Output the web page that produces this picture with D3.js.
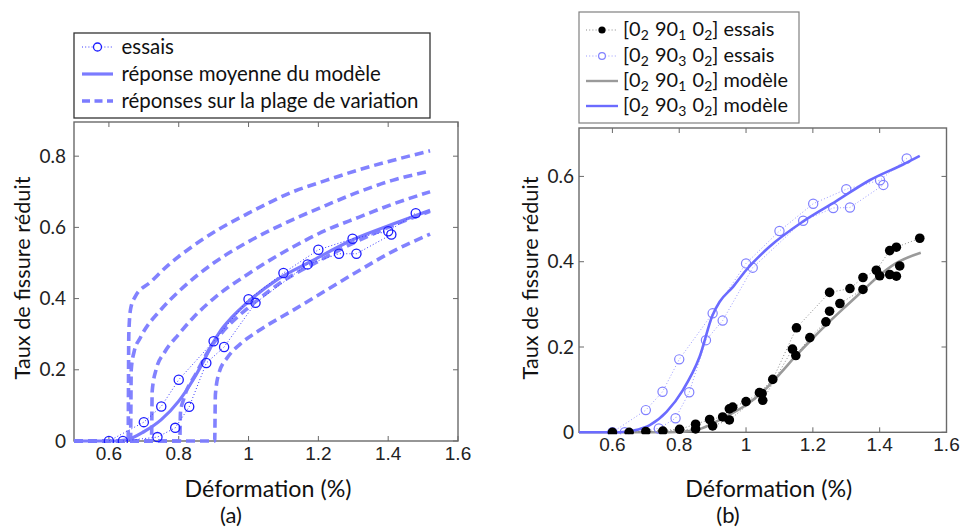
<!DOCTYPE html>
<html><head><meta charset="utf-8">
<script src="https://cdn.jsdelivr.net/npm/d3@7"></script>
<style>body{margin:0;background:#fff}</style>
</head><body>
<svg id="c" width="962" height="530"></svg>
<script>
// ---------- data ----------
const xTicks = [0.6, 0.8, 1, 1.2, 1.4, 1.6];
const yTicksA = [0, 0.2, 0.4, 0.6, 0.8];
const yTicksB = [0, 0.2, 0.4, 0.6];

// (a) essais – two specimens
const essaisA1 = [[0.6,0],[0.70,0.053],[0.75,0.097],[0.80,0.172],[0.90,0.28],[1.0,0.398],[1.10,0.472],[1.20,0.537],[1.298,0.568],[1.40,0.589],[1.479,0.64]];
const essaisA2 = [[0.64,0],[0.739,0.011],[0.79,0.037],[0.83,0.096],[0.879,0.219],[0.93,0.264],[1.02,0.388],[1.169,0.496],[1.259,0.526],[1.309,0.526],[1.409,0.58]];
// (a) mean model response
const meanA = [[0.5,0],[0.62,0],[0.65,0.003],[0.70,0.026],[0.75,0.06],[0.80,0.112],[0.84,0.17],[0.87,0.222],[0.895,0.27],[0.92,0.31],[0.95,0.345],[1.0,0.392],[1.08,0.452],[1.18,0.505],[1.30,0.566],[1.41,0.608],[1.52,0.648]];
// (a) responses over the variation range
const dash1 = [[0.5,0],[0.655,0],[0.657,0.30],[0.662,0.37],[0.675,0.405],[0.72,0.447],[0.77,0.494],[0.83,0.54],[0.91,0.592],[1.0,0.64],[1.127,0.70],[1.222,0.732],[1.317,0.762],[1.412,0.788],[1.52,0.815]];
const dash2 = [[0.5,0],[0.662,0],[0.664,0.20],[0.672,0.25],[0.69,0.29],[0.75,0.37],[0.80,0.42],[0.90,0.50],[1.0,0.56],[1.127,0.622],[1.222,0.662],[1.317,0.70],[1.412,0.732],[1.52,0.758]];
const dash3 = [[0.5,0],[0.722,0],[0.724,0.14],[0.735,0.20],[0.76,0.25],[0.80,0.30],[0.84,0.345],[0.90,0.40],[1.0,0.47],[1.127,0.545],[1.222,0.592],[1.317,0.629],[1.412,0.665],[1.52,0.70]];
const dash4 = [[0.5,0],[0.803,0],[0.805,0.08],[0.815,0.12],[0.85,0.19],[0.88,0.245],[0.92,0.30],[0.97,0.35],[1.0,0.375],[1.10,0.45],[1.20,0.505],[1.30,0.556],[1.40,0.60],[1.52,0.645]];
const dash5 = [[0.5,0],[0.903,0],[0.905,0.13],[0.915,0.19],[0.94,0.235],[0.976,0.272],[1.031,0.311],[1.127,0.367],[1.222,0.423],[1.317,0.479],[1.412,0.532],[1.52,0.581]];

// (b) [0 90_1 0] essais – two specimens
const black1 = [[0.6,0],[0.70,0.002],[0.801,0.007],[0.849,0.019],[0.891,0.030],[0.93,0.036],[0.95,0.055],[0.96,0.059],[1.0,0.072],[1.04,0.093],[1.08,0.124],[1.151,0.245],[1.25,0.328],[1.311,0.337],[1.35,0.363],[1.39,0.38],[1.43,0.426],[1.45,0.434],[1.52,0.455]];
const black2 = [[0.65,0],[0.751,0.003],[0.849,0.008],[0.90,0.015],[0.95,0.029],[1.048,0.091],[1.05,0.075],[1.139,0.195],[1.149,0.18],[1.191,0.222],[1.239,0.259],[1.25,0.284],[1.281,0.302],[1.35,0.335],[1.40,0.367],[1.43,0.37],[1.45,0.366],[1.46,0.39]];
// (b) [0 90_3 0] essais – two specimens
const blueB1 = [[0.6,0],[0.70,0.052],[0.75,0.095],[0.80,0.171],[0.90,0.279],[1.0,0.396],[1.10,0.472],[1.201,0.536],[1.30,0.57],[1.401,0.591],[1.481,0.642]];
const blueB2 = [[0.637,0],[0.739,0.009],[0.789,0.033],[0.83,0.094],[0.88,0.216],[0.93,0.262],[1.02,0.386],[1.171,0.496],[1.261,0.526],[1.311,0.527],[1.411,0.58]];
// (b) models
const greyModel = [[0.5,0],[0.77,0],[0.85,0.005],[0.90,0.021],[0.95,0.041],[1.0,0.064],[1.05,0.095],[1.10,0.136],[1.149,0.179],[1.199,0.22],[1.249,0.259],[1.298,0.295],[1.348,0.331],[1.398,0.367],[1.448,0.396],[1.523,0.421]];
const blueModel = [[0.5,0],[0.62,0],[0.662,0.004],[0.712,0.017],[0.762,0.048],[0.811,0.099],[0.861,0.177],[0.90,0.275],[0.921,0.306],[0.961,0.341],[1.0,0.38],[1.07,0.435],[1.17,0.494],[1.27,0.542],[1.37,0.591],[1.47,0.628],[1.52,0.648]];

const legendA = ["essais", "réponse moyenne du modèle", "réponses sur la plage de variation"];
const legendB = [["2","1","essais"],["2","3","essais"],["2","1","modèle"],["2","3","modèle"]];

// ---------- drawing ----------
const svg = d3.select("#c");
const FRAME = "#6a6a6a";
const SANS = "Lato, 'Open Sans', sans-serif";
const NARROW = "'Liberation Sans Narrow', 'Liberation Sans', sans-serif";
const LEG = "Lato, 'Noto Sans', sans-serif";

function panel(cfg) {
  const x = d3.scaleLinear().domain([0.5, 1.6]).range([cfg.x0, cfg.x1]);
  const y = d3.scaleLinear().domain([0, cfg.yMax]).range([cfg.y0, cfg.y1]);
  const g = svg.append("g");
  const clipId = "clip" + cfg.id;
  svg.append("clipPath").attr("id", clipId).append("rect")
    .attr("x", cfg.x0).attr("y", cfg.y1).attr("width", cfg.x1 - cfg.x0).attr("height", cfg.y0 - cfg.y1 + 2);
  const tl = 5;
  cfg.yTicks.forEach(v => {
    g.append("line").attr("x1", cfg.x0).attr("x2", cfg.x0 + tl).attr("y1", y(v)).attr("y2", y(v)).attr("stroke", FRAME);
    g.append("line").attr("x1", cfg.x1).attr("x2", cfg.x1 - tl).attr("y1", y(v)).attr("y2", y(v)).attr("stroke", FRAME);
    g.append("text").attr("x", cfg.x0 - cfg.ylabGap).attr("y", y(v)).attr("dy", "0.35em")
      .attr("text-anchor", "end").attr("font-family", SANS).attr("font-size", 19).attr("fill", "#222")
      .text(d3.format("~g")(v));
  });
  xTicks.forEach(v => {
    g.append("line").attr("x1", x(v)).attr("x2", x(v)).attr("y1", cfg.y0).attr("y2", cfg.y0 - tl).attr("stroke", FRAME);
    g.append("line").attr("x1", x(v)).attr("x2", x(v)).attr("y1", cfg.y1).attr("y2", cfg.y1 + tl).attr("stroke", FRAME);
    g.append("text").attr("x", x(v)).attr("y", cfg.y0 + 19)
      .attr("text-anchor", "middle").attr("font-family", NARROW).attr("font-size", 19).attr("fill", "#222")
      .text(d3.format("~g")(v));
  });
  const plot = svg.append("g").attr("clip-path", `url(#${clipId})`);
  g.append("rect").attr("x", cfg.x0).attr("y", cfg.y1).attr("width", cfg.x1 - cfg.x0).attr("height", cfg.y0 - cfg.y1)
    .attr("fill", "none").attr("stroke", FRAME).attr("stroke-width", 1.4);
  const xt = svg.append("text").attr("x", (cfg.x0 + cfg.x1) / 2 + cfg.xtShift).attr("y", 497)
    .attr("text-anchor", "middle").attr("font-family", SANS).attr("font-size", 21).attr("fill", "#111")
    .text("Déformation (%)");
  fit(xt, 167);
  const yt = svg.append("text").attr("transform", `translate(${cfg.ytX},278) rotate(-90)`)
    .attr("text-anchor", "middle").attr("dy", "0.36em").attr("font-family", SANS).attr("font-size", 21).attr("fill", "#111")
    .text("Taux de fissure réduit");
  fit(yt, 203);
  svg.append("text").attr("x", cfg.capX).attr("y", 523).attr("text-anchor", "middle")
    .attr("font-family", SANS).attr("font-size", 22).attr("fill", "#111").text(cfg.cap);
  return {x, y, plot};
}

function fit(sel, w) {
  const fs = +sel.attr("font-size");
  const cur = sel.node().getComputedTextLength();
  sel.attr("font-size", (fs * w / cur).toFixed(2));
}

function line(p, curve) {
  return d3.line().x(d => p.x(d[0])).y(d => p.y(d[1])).curve(curve || d3.curveLinear);
}

// ----- panel (a) -----
const A = panel({id: "a", x0: 74, x1: 458, y0: 441, y1: 122, yMax: 0.896, yTicks: yTicksA, ylabGap: 8,
  ytX: 22, cap: "(a)", capX: 231, xtShift: 2});
const BLUE_L = "#7b7bff";
[dash1, dash2, dash3, dash4, dash5].forEach(d => {
  A.plot.append("path").attr("d", line(A, d3.curveMonotoneX)(d)).attr("fill", "none")
    .attr("stroke", BLUE_L).attr("stroke-width", 3.6).attr("stroke-dasharray", "9,5").attr("opacity", 0.95);
});
A.plot.append("path").attr("d", line(A, d3.curveMonotoneX)(meanA)).attr("fill", "none")
  .attr("stroke", BLUE_L).attr("stroke-width", 3.2);
[essaisA1, essaisA2].forEach(d => {
  A.plot.append("path").attr("d", line(A)(d)).attr("fill", "none")
    .attr("stroke", "#3a3aff").attr("stroke-width", 1).attr("stroke-dasharray", "1,2.2");
  A.plot.selectAll(null).data(d).enter().append("circle")
    .attr("cx", p => A.x(p[0])).attr("cy", p => A.y(p[1])).attr("r", 4.6)
    .attr("fill", "none").attr("stroke", "#1c1cff").attr("stroke-width", 1.3);
});

// legend (a)
const lgA = svg.append("g");
lgA.append("rect").attr("x", 74).attr("y", 33).attr("width", 356).attr("height", 85)
  .attr("fill", "#fff").attr("stroke", "#333").attr("stroke-width", 1.3);
const rowsA = [47, 74, 101];
lgA.append("line").attr("x1", 82).attr("x2", 113).attr("y1", rowsA[0]).attr("y2", rowsA[0])
  .attr("stroke", "#3a3aff").attr("stroke-width", 1).attr("stroke-dasharray", "1,2.2");
lgA.append("circle").attr("cx", 97.5).attr("cy", rowsA[0]).attr("r", 4).attr("fill", "#fff").attr("stroke", "#1c1cff").attr("stroke-width", 1.3);
lgA.append("line").attr("x1", 82).attr("x2", 113).attr("y1", rowsA[1]).attr("y2", rowsA[1])
  .attr("stroke", BLUE_L).attr("stroke-width", 3.2);
lgA.append("line").attr("x1", 82).attr("x2", 113).attr("y1", rowsA[2]).attr("y2", rowsA[2])
  .attr("stroke", BLUE_L).attr("stroke-width", 3.6).attr("stroke-dasharray", "8,4.5");
const txA = legendA.map((t, i) => lgA.append("text").attr("x", 121.5).attr("y", rowsA[i]).attr("dy", "0.33em")
  .attr("font-family", LEG).attr("font-size", 18).attr("fill", "#111").text(t));
{
  const w = txA[2].node().getComputedTextLength();
  const fs = (18 * 297 / w).toFixed(2);
  txA.forEach(t => t.attr("font-size", fs));
}

// ----- panel (b) -----
const B = panel({id: "b", x0: 579, x1: 946.5, y0: 432.3, y1: 128, yMax: 0.7135, yTicks: yTicksB, ylabGap: 5,
  ytX: 530, cap: "(b)", capX: 728, xtShift: 6});
const BLUE_B = "#6b6bff";
B.plot.append("path").attr("d", line(B, d3.curveMonotoneX)(greyModel)).attr("fill", "none")
  .attr("stroke", "#9a9a9a").attr("stroke-width", 2.6);
[black1, black2].forEach(d => {
  B.plot.append("path").attr("d", line(B)(d)).attr("fill", "none")
    .attr("stroke", "#8a8a8a").attr("stroke-width", 1).attr("stroke-dasharray", "1,2.2");
});
[blueB1, blueB2].forEach(d => {
  B.plot.append("path").attr("d", line(B)(d)).attr("fill", "none")
    .attr("stroke", "#9a9aff").attr("stroke-width", 1).attr("stroke-dasharray", "1,2.2");
  B.plot.selectAll(null).data(d).enter().append("circle")
    .attr("cx", p => B.x(p[0])).attr("cy", p => B.y(p[1])).attr("r", 4.6)
    .attr("fill", "none").attr("stroke", "#8080ff").attr("stroke-width", 1.2);
});
B.plot.append("path").attr("d", line(B, d3.curveMonotoneX)(blueModel)).attr("fill", "none")
  .attr("stroke", BLUE_B).attr("stroke-width", 2.6);
[black1, black2].forEach(d => {
  B.plot.selectAll(null).data(d).enter().append("circle")
    .attr("cx", p => B.x(p[0])).attr("cy", p => B.y(p[1])).attr("r", 4.8).attr("fill", "#000");
});

// legend (b)
const lgB = svg.append("g");
lgB.append("rect").attr("x", 579).attr("y", 12).attr("width", 220).attr("height", 111)
  .attr("fill", "#fff").attr("stroke", "#808080").attr("stroke-width", 1.2);
const rowsB = [30, 56, 81, 106];
lgB.append("line").attr("x1", 586).attr("x2", 618).attr("y1", rowsB[0]).attr("y2", rowsB[0])
  .attr("stroke", "#8a8a8a").attr("stroke-width", 1).attr("stroke-dasharray", "1,2.2");
lgB.append("circle").attr("cx", 602).attr("cy", rowsB[0]).attr("r", 3.6).attr("fill", "#000");
lgB.append("line").attr("x1", 586).attr("x2", 618).attr("y1", rowsB[1]).attr("y2", rowsB[1])
  .attr("stroke", "#9a9aff").attr("stroke-width", 1).attr("stroke-dasharray", "1,2.2");
lgB.append("circle").attr("cx", 602).attr("cy", rowsB[1]).attr("r", 3.4).attr("fill", "#fff").attr("stroke", "#8080ff").attr("stroke-width", 1.2);
lgB.append("line").attr("x1", 586).attr("x2", 618).attr("y1", rowsB[2]).attr("y2", rowsB[2])
  .attr("stroke", "#9a9a9a").attr("stroke-width", 2.4);
lgB.append("line").attr("x1", 586).attr("x2", 618).attr("y1", rowsB[3]).attr("y2", rowsB[3])
  .attr("stroke", BLUE_B).attr("stroke-width", 2.4);
const txB = legendB.map((e, i) => {
  const t = lgB.append("text").attr("x", 623).attr("y", rowsB[i] + 6)
    .attr("font-family", LEG).attr("font-size", 18).attr("fill", "#111");
  t.append("tspan").text("[0");
  t.append("tspan").attr("font-size", "70%").attr("dy", 4).text(e[0]);
  t.append("tspan").attr("dy", -4).text("\u200A 90");
  t.append("tspan").attr("font-size", "70%").attr("dy", 4).text(e[1]);
  t.append("tspan").attr("dy", -4).text("\u200A 0");
  t.append("tspan").attr("font-size", "70%").attr("dy", 4).text(e[0]);
  t.append("tspan").attr("dy", -4).text("] " + e[2]);
  return t;
});
{
  const w = txB[2].node().getComputedTextLength();
  const fs = (18 * 165 / w).toFixed(2);
  txB.forEach(t => t.attr("font-size", fs));
}
</script>
</body></html>
